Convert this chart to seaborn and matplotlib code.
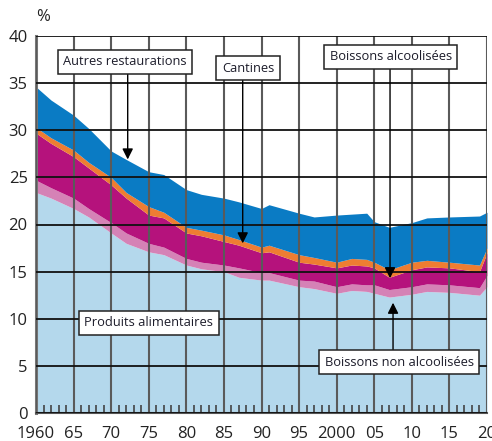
import matplotlib
matplotlib.use("Agg")
import matplotlib.pyplot as plt
import seaborn as sns
import numpy as np
from matplotlib.ticker import MultipleLocator, FixedLocator

# ---- data (share of household consumption, %) ----
years = [1960, 1962, 1965, 1967, 1970, 1972, 1975, 1977, 1980, 1982, 1985, 1987,
         1990, 1991, 1995, 1997, 2000, 2002, 2004, 2005, 2007, 2010, 2012, 2015,
         2019, 2020]
produits_alimentaires = [23.4, 22.8, 21.7, 20.8, 19.1, 18.0, 17.1, 16.8, 15.7, 15.3,
                         15.0, 14.4, 14.1, 14.1, 13.4, 13.2, 12.7, 13.0, 12.9, 12.7,
                         12.3, 12.6, 12.9, 12.8, 12.5, 13.4]
boissons_non_alc = [1.3, 1.1, 1.1, 0.9, 1.1, 1.1, 0.9, 0.8, 0.7, 0.7, 0.7, 1.0, 0.8,
                    0.8, 0.7, 0.8, 0.7, 0.7, 0.7, 0.9, 0.8, 0.8, 0.8, 0.8, 0.8, 1.2]
boissons_alc = [5.0, 4.7, 4.4, 4.3, 4.0, 3.7, 3.0, 3.1, 2.7, 2.8, 2.5, 2.4, 2.1, 2.2,
                1.9, 1.8, 2.0, 2.0, 2.0, 1.8, 1.3, 1.8, 1.8, 1.8, 1.7, 2.4]
cantines = [0.6, 0.6, 0.7, 0.6, 0.8, 0.6, 0.9, 0.6, 0.6, 0.6, 0.7, 0.6, 0.6, 0.7,
            0.8, 0.7, 0.6, 0.7, 0.7, 0.6, 0.8, 0.8, 0.7, 0.6, 0.7, 0.5]
autres_restaurations = [4.3, 4.0, 3.7, 3.6, 2.8, 3.5, 3.7, 4.0, 4.0, 3.8, 3.9, 4.0,
                        4.1, 4.3, 4.4, 4.3, 5.0, 4.7, 4.9, 4.3, 4.5, 4.2, 4.5, 4.8,
                        5.2, 3.8]

series_labels = ["Produits alimentaires", "Boissons non alcoolisées",
                 "Boissons alcoolisées", "Cantines", "Autres restaurations"]
colors = ["#B4D8EC", "#D582B6", "#B5127C", "#EE7D32", "#0A7BC4"]

xtick_years = [1960, 1965, 1970, 1975, 1980, 1985, 1990, 1995, 2000, 2005, 2010, 2015, 2020]
xtick_labels = ["1960", "65", "70", "75", "80", "85", "90", "95", "2000", "05", "10", "15", "20"]

sns.set_theme(style="white")
plt.rcParams["font.family"] = ["Open Sans", "DejaVu Sans"]

fig = plt.figure(figsize=(4.92, 4.41), dpi=100)
ax = fig.add_axes([36 / 492, 28 / 441, (487 - 36) / 492, (413 - 36) / 441])

ax.stackplot(years, produits_alimentaires, boissons_non_alc, boissons_alc,
             cantines, autres_restaurations, colors=colors, labels=series_labels,
             linewidth=0, zorder=1)

ax.set_xlim(1960, 2020)
ax.set_ylim(0, 40)

# grid above the areas
ax.set_axisbelow(False)
ax.xaxis.set_major_locator(FixedLocator(xtick_years))
ax.set_xticklabels(xtick_labels)
ax.xaxis.set_minor_locator(MultipleLocator(1))
ax.yaxis.set_major_locator(MultipleLocator(5))
ax.grid(axis="y", which="major", color="#111111", linewidth=1.3, zorder=2.5)
ax.grid(axis="x", which="major", color="#5a5a5a", linewidth=1.5, zorder=2.5)

ax.tick_params(axis="x", which="major", length=0, pad=9, labelsize=12, labelcolor="#222222")
ax.tick_params(axis="x", which="minor", direction="in", length=6, width=1.2,
               color="#444444", bottom=True)
ax.tick_params(axis="y", which="major", length=0, pad=6, labelsize=12, labelcolor="#222222")

for side in ["top", "right"]:
    ax.spines[side].set_visible(False)
ax.spines["left"].set_color("#777777")
ax.spines["left"].set_linewidth(2.2)
ax.spines["bottom"].set_color("#555555")
ax.spines["bottom"].set_linewidth(1.5)

ax.set_xlabel("")
ax.set_ylabel("")
fig.text(43 / 492, 1 - 17 / 441, "%", ha="center", va="center", fontsize=12, color="#222222")

# annotations
box = dict(boxstyle="square,pad=0.42", fc="white", ec="#222222", lw=1.1)
arrow = dict(arrowstyle="-|>", color="black", lw=1.0, mutation_scale=16, shrinkA=0, shrinkB=0)
tfs = 9.3

def label(x, y, s):
    ax.text(x, y, s, ha="center", va="center", fontsize=tfs, color="#1c1c2a",
            bbox=box, zorder=6)

def pointer(x, y0, y1):
    ax.annotate("", xy=(x, y1), xytext=(x, y0), arrowprops=arrow, zorder=5)

pointer(1972.2, 36.0, 26.9)
label(1971.8, 37.25, "Autres restaurations")

pointer(1987.5, 36.0, 18.0)
label(1988.2, 36.6, "Cantines")

pointer(2007.1, 37.0, 14.3)
label(2007.2, 37.8, "Boissons alcoolisées")

pointer(2007.5, 5.5, 11.7)
label(2008.3, 5.4, "Boissons non alcoolisées")

label(1975.0, 9.55, "Produits alimentaires")

fig.savefig("out.png", dpi=100)
